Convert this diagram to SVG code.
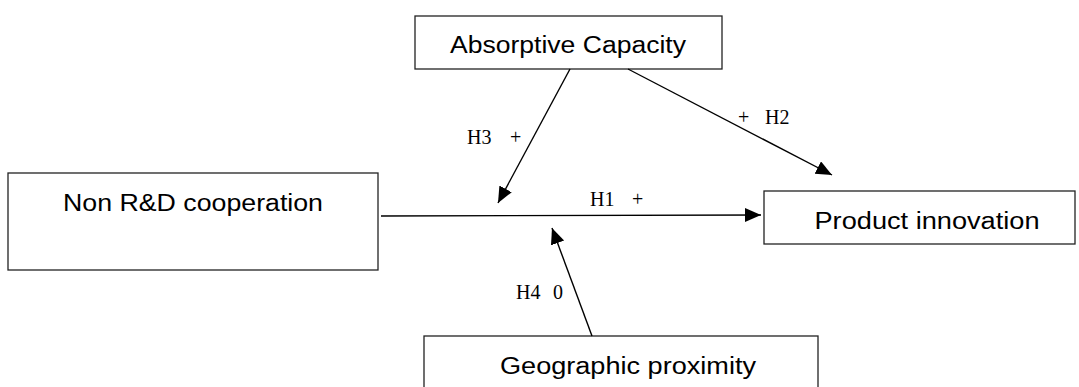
<svg xmlns="http://www.w3.org/2000/svg" width="1079" height="387" viewBox="0 0 1079 387">
<style>
.box{fill:#fff;stroke:#222;stroke-width:1.3}
.nt{font-family:"Liberation Sans",Arial,sans-serif;font-size:23.5px;fill:#000;text-anchor:middle}
.lb{font-family:"Liberation Serif","Times New Roman",serif;font-size:20px;fill:#000}
.cn{stroke:#000;stroke-width:1.4;fill:none;marker-end:url(#ah)}
</style>
<defs>
<marker id="ah" markerUnits="userSpaceOnUse" markerWidth="18" markerHeight="16" refX="16" refY="7" orient="auto">
<path d="M0,0 L16,7 L0,14 z" fill="#000"/>
</marker>
</defs>
<rect width="1079" height="387" fill="#fff"/>
<g id="absorptive">
<rect class="box" x="415" y="16" width="307" height="53"/>
<text class="nt" x="568" y="53" textLength="236" lengthAdjust="spacingAndGlyphs">Absorptive Capacity</text>
</g>
<g id="nonrd">
<rect class="box" x="8" y="173" width="370" height="97"/>
<text class="nt" x="193" y="211" textLength="260" lengthAdjust="spacingAndGlyphs">Non R&amp;D cooperation</text>
</g>
<g id="product">
<rect class="box" x="764" y="191" width="311" height="53"/>
<text class="nt" x="927" y="229" textLength="225" lengthAdjust="spacingAndGlyphs">Product innovation</text>
</g>
<g id="geographic">
<rect class="box" x="424" y="336" width="394" height="60"/>
<text class="nt" x="628" y="374" textLength="256" lengthAdjust="spacingAndGlyphs">Geographic proximity</text>
</g>
<g id="connectors">
<line class="cn" x1="381" y1="216" x2="761" y2="215"/>
<line class="cn" x1="570" y1="69" x2="498" y2="203"/>
<line class="cn" x1="628" y1="69" x2="832" y2="175"/>
<line class="cn" x1="592" y1="336" x2="552" y2="228"/>
<text class="lb" y="144"><tspan x="467">H3</tspan><tspan x="510">+</tspan></text>
<text class="lb" y="206"><tspan x="590">H1</tspan><tspan x="632">+</tspan></text>
<text class="lb" y="124"><tspan x="738">+</tspan><tspan x="765">H2</tspan></text>
<text class="lb" y="299"><tspan x="516">H4</tspan><tspan x="553">0</tspan></text>
</g>
</svg>
